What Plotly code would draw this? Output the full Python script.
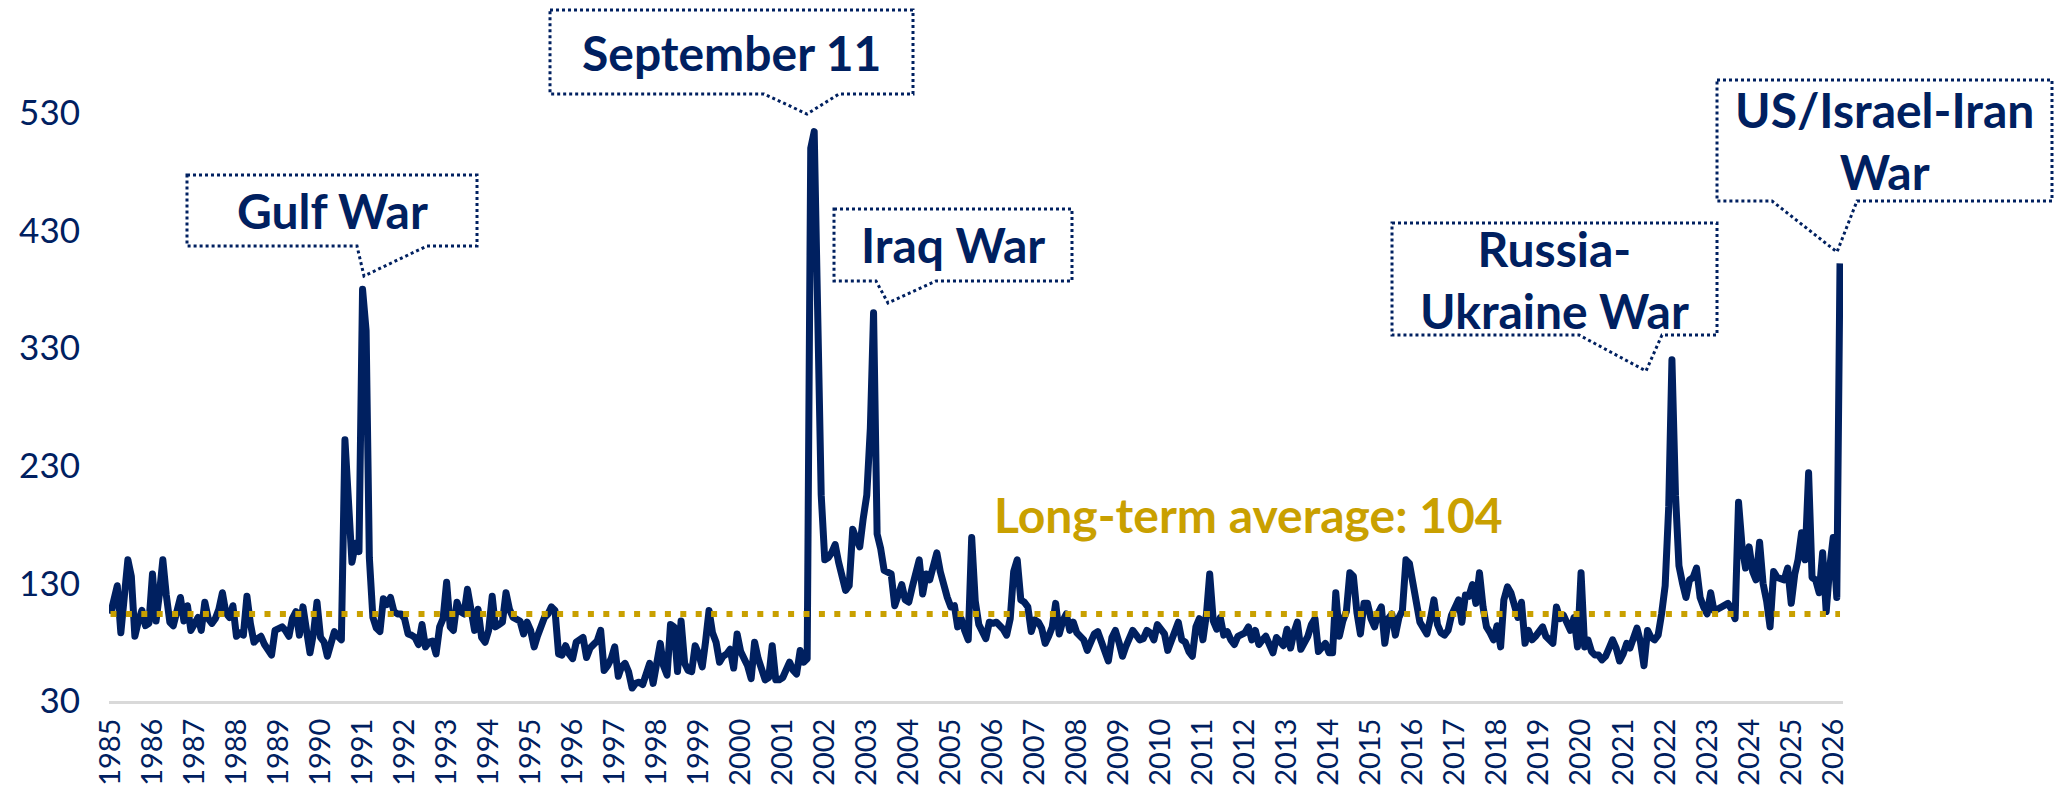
import pandas as pd
import plotly.graph_objects as go

# monthly geopolitical risk index, Jan 1985 - Mar 2026
gpr_1985_1994 = [
    104, 116, 128, 88, 118, 150, 136, 85, 98, 107, 94, 96,
    138, 98, 120, 150, 120, 97, 94, 105, 118, 98, 111, 90,
    95, 101, 90, 114, 100, 96, 100, 108, 122, 105, 101, 111,
    85, 88, 86, 119, 96, 80, 83, 85, 78, 74, 69, 90,
    92, 93, 90, 85, 100, 106, 86, 110, 90, 71, 88, 114,
    84, 80, 68, 80, 89, 85, 82, 252, 200, 148, 164, 157,
    380, 345, 152, 101, 92, 89, 117, 112, 118, 106, 104, 104,
    100, 87, 86, 84, 78, 95, 76, 80, 81, 70, 93, 100,
    131, 93, 90, 114, 106, 104, 125, 105, 90, 108, 84, 80,
    90, 119, 93, 95, 97, 122, 108, 101, 100, 98, 87, 97,
]
gpr_1995_2004 = [
    90, 76, 85, 93, 101, 104, 110, 107, 70, 69, 77, 70,
    66, 80, 82, 84, 67, 75, 78, 81, 90, 56, 60, 66,
    76, 51, 59, 62, 55, 41, 45, 46, 44, 52, 62, 45,
    60, 79, 60, 52, 95, 93, 55, 98, 62, 56, 55, 77,
    70, 59, 80, 107, 88, 80, 63, 68, 70, 74, 58, 87,
    72, 65, 60, 49, 80, 66, 55, 48, 50, 77, 48, 48,
    50, 56, 63, 56, 53, 73, 63, 66, 500, 514, 310, 205,
    150, 152, 156, 163, 148, 135, 124, 128, 176, 168, 161, 185,
    205, 262, 360, 172, 160, 141, 139, 138, 111, 120, 129, 116,
    114, 127, 140, 150, 121, 138, 133, 145, 156, 140, 127, 118,
]
gpr_2005_2014 = [
    110, 111, 93, 100, 90, 82, 169, 115, 95, 90, 83, 97,
    96, 97, 95, 91, 86, 100, 140, 150, 116, 114, 110, 89,
    99, 97, 92, 79, 85, 93, 113, 87, 98, 104, 90, 97,
    88, 84, 82, 73, 80, 87, 89, 80, 73, 64, 84, 90,
    80, 68, 76, 82, 90, 86, 82, 83, 90, 88, 82, 95,
    90, 87, 73, 80, 87, 97, 82, 80, 72, 68, 93, 100,
    82, 104, 138, 98, 91, 101, 86, 89, 82, 78, 85, 86,
    88, 93, 82, 90, 78, 82, 85, 78, 71, 84, 80, 77,
    91, 75, 88, 97, 74, 80, 85, 95, 100, 72, 76, 79,
    71, 71, 122, 85, 98, 106, 139, 136, 105, 87, 113, 113,
]
gpr_2015_2026 = [
    100, 93, 104, 110, 79, 100, 104, 86, 101, 107, 150, 147,
    130, 116, 97, 92, 87, 100, 116, 95, 88, 86, 90, 103,
    110, 116, 97, 120, 119, 129, 113, 139, 110, 93, 88, 82,
    94, 76, 116, 127, 122, 110, 101, 114, 79, 90, 82, 85,
    90, 93, 85, 82, 79, 110, 100, 103, 95, 90, 101, 76,
    139, 76, 82, 72, 69, 69, 65, 68, 75, 82, 75, 64,
    70, 79, 75, 85, 92, 80, 60, 90, 84, 82, 86, 104,
    128, 195, 320, 205, 145, 130, 118, 133, 135, 143, 118, 110,
    104, 122, 107, 108, 110, 112, 113, 108, 100, 199, 161, 143,
    161, 140, 133, 165, 130, 115, 93, 140, 135, 134, 133, 143,
    113, 138, 150, 173, 150, 224, 135, 133, 122, 156, 106, 143,
    169, 118, 402,
]
long_term_avg = 104
y_ticks = [30, 130, 230, 330, 430, 530]

gpr = gpr_1985_1994 + gpr_1995_2004 + gpr_2005_2014 + gpr_2015_2026
dates = pd.date_range("1985-01-01", periods=len(gpr), freq="MS")

navy = "#002060"
gold = "#C9A000"
FONT = "Lato"

# page layout in pixels
W, H = 2055, 796
L, R, T, B = 109, 212, 54, 95

def px(x):
    return (x - L) / (W - L - R)

def py(y):
    return (H - B - y) / (H - T - B)

fig = go.Figure()
fig.add_trace(go.Scatter(x=dates, y=gpr, mode="lines",
                         line=dict(color=navy, width=7), hoverinfo="x+y"))
fig.add_trace(go.Scatter(x=[dates[0], dates[-1]], y=[long_term_avg, long_term_avg],
                         mode="lines", line=dict(color=gold, width=6, dash="6px,9.4px"),
                         hoverinfo="skip"))

# callout boxes: box corners, wedge base (a, b) and tip, all in page pixels
callouts = [
    ("Gulf War", (187, 175, 477, 246), 357, (364, 276), 427),
    ("September 11", (550, 10, 913, 94), 764, (807, 114), 839),
    ("Iraq War", (834, 209, 1072, 281), 876, (888, 303), 936),
    ("Russia-<br>Ukraine War", (1392, 223, 1717, 335), 1579, (1646, 371), 1662),
    ("US/Israel-Iran<br>War", (1717, 80, 2052, 201), 1772, (1837, 252), 1857),
]

shapes = []
annotations = []
for text, (x0, y0, x1, y1), a, tip, b in callouts:
    pts = [(x0, y0), (x1, y0), (x1, y1), (b, y1), tip, (a, y1), (x0, y1)]
    path = "M " + " L ".join(f"{px(x):.5f},{py(y):.5f}" for x, y in pts) + " Z"
    shapes.append(dict(type="path", xref="paper", yref="paper", path=path,
                       line=dict(color=navy, width=3, dash="dot"),
                       fillcolor="white", layer="above"))
    annotations.append(dict(text=f"<b>{text}</b>", xref="paper", yref="paper",
                            x=px((x0 + x1) / 2), y=py((y0 + y1) / 2),
                            xanchor="center", yanchor="middle", showarrow=False,
                            font=dict(family=FONT, size=48, color=navy)))

annotations.append(dict(text=f"<b>Long-term average: {long_term_avg}</b>",
                        xref="paper", yref="paper", x=px(1248), y=py(514),
                        xanchor="center", yanchor="middle", showarrow=False,
                        font=dict(family=FONT, size=48, color=gold)))

fig.update_layout(
    width=W, height=H,
    margin=dict(l=L, r=R, t=T, b=B),
    paper_bgcolor="white", plot_bgcolor="white",
    showlegend=False,
    shapes=shapes, annotations=annotations,
    xaxis=dict(type="date", range=["1984-12-19", "2026-03-27"],
               tick0="1985-01-01", dtick="M12", tickformat="%Y", tickangle=-90,
               tickfont=dict(family=FONT, size=29, color=navy),
               showgrid=False, zeroline=False, ticks="",
               showline=True, linecolor="#D9D9D9", linewidth=3,
               ticklabelstandoff=3, automargin=False),
    yaxis=dict(range=[30, 580], tickvals=y_ticks,
               tickfont=dict(family=FONT, size=35, color=navy),
               showgrid=False, zeroline=False, showline=False, ticks="",
               ticklabelstandoff=28, automargin=False),
)

fig.write_html("out.html", config={"displayModeBar": False}, post_script=(
    "document.body.style.margin='0';"
    "document.querySelectorAll('.scatterlayer path.js-line')"
    ".forEach(function(p){p.style.strokeLinejoin='round';});"
))
